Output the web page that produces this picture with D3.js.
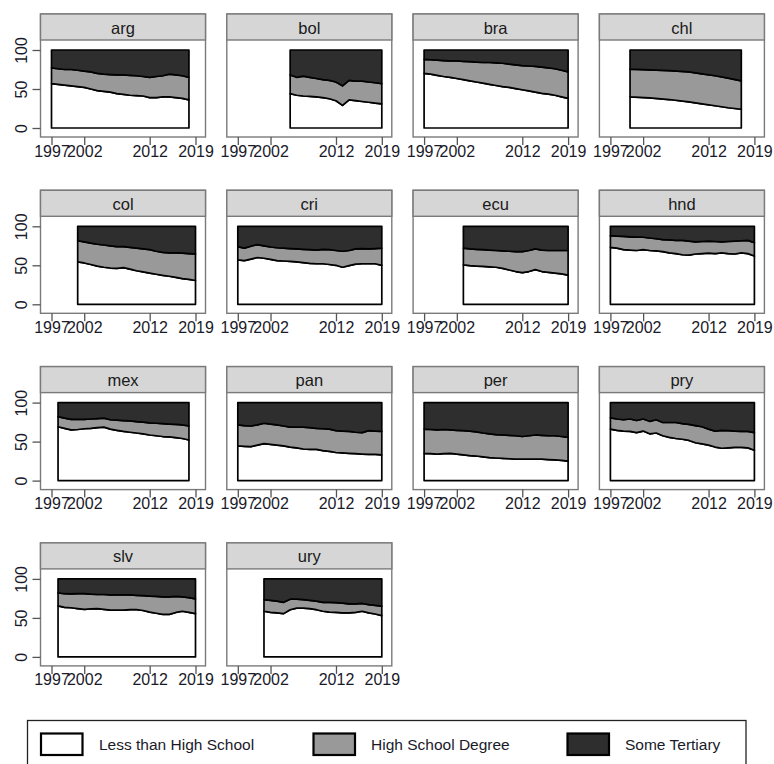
<!DOCTYPE html>
<html>
<head>
<meta charset="utf-8">
<script src="https://cdn.jsdelivr.net/npm/d3@7"></script>
<style>
  html, body { margin: 0; padding: 0; background: #fff; }
  svg { display: block; font-family: "Liberation Sans", Arial, sans-serif; }
</style>
</head>
<body>
<svg id="chart" width="774" height="764"></svg>
<script>
// ---- Data: shares (%) by education level; "upTo" = Less than HS + HS Degree ----
const countries = ["arg","bol","bra","chl","col","cri","ecu","hnd","mex","pan","per","pry","slv","ury"];
const xTickValues = [1997, 2002, 2012, 2019];
const yTickValues = [0, 50, 100];
const seriesNames = ["Less than High School", "High School Degree", "Some Tertiary"];

const argYears = d3.range(1997, 2019);
const argLess  = [57,56,55,54,53,52,50,48,47,46,44,43,42,41.5,41,39,39,40,40,39,38,36];
const argUpTo  = [77,76,75,75,74,73,72,70,69,68.5,68,68,67.5,67,66,65,66,67,69,68,67,65];

const bolYears = d3.range(2005, 2020);
const bolLess  = [44,42,41,40.5,40,39,37.5,35,29,36,35,34,33,32,31];
const bolUpTo  = [68,65,66.5,65,63.5,62,61,59,54,61,60,60,59,58,57];

const braYears = d3.range(1997, 2020);
const braLess  = [70,69,67.5,66,65,63.5,62,60.5,59,57.5,56,54.5,53,52,50.5,49,47.5,46,44.5,43.5,42,40,38];
const braUpTo  = [88,87.5,87,86.5,86,86,85.5,85,84.5,84,84,83.5,83,82,81,80,79.5,79,78,77,76,74,72];

const chlYears = [2000,2003,2006,2009,2011,2013,2015,2017];
const chlLess  = [40,38.5,36.5,33.5,31,28.5,26,24];
const chlUpTo  = [75.5,74.5,73.5,72,69.5,67,64,60.5];

const colYears = d3.range(2001, 2020);
const colLess  = [54.5,53,51,49,47.5,46.5,46,47,45,43,41.5,40,38.5,37,36,34.5,33,32,30.5];
const colUpTo  = [81.5,80,78.5,77,76,75,74,74,73,72,71,70,68,66.5,66,66,65.5,65,64.5];

const criYears = d3.range(1997, 2020);
const criLess  = [57,56,58,60,59,57.5,56,55.5,55,54.5,53.5,52.5,52,52,51,50,47.5,49.5,51.5,52,52,52,50];
const criUpTo  = [74,72,74.5,76.5,75,73.5,72.5,72,71.5,71,70.5,70,69.5,70.5,70,69,68,69,71,71.5,71,71.5,72];

const ecuYears = d3.range(2003, 2020);
const ecuLess  = [50.5,49.5,49,48.5,48,47.5,46,44,42,40.5,42,44.5,42,41,40,39,37.5];
const ecuUpTo  = [72,71,70.5,70,69.5,69,68.5,68,67.5,67.5,69,71,69.5,69,69,69,69];

const hndYears = d3.range(1997, 2020);
const hndLess  = [73,72,70,69.5,69,70,69,68.5,67.5,66,65,63.5,63,64.5,65,65.5,65,66,65,64.5,66,65,62];
const hndUpTo  = [88,87.5,87,86.5,86,86,85,84,83,82.5,82,82,81,80,80.5,81,80.5,80,80.5,81,81.5,82,79];

const mexYears = d3.range(1998, 2019);
const mexLess  = [69,67,65,65.5,66.5,67,68,68.5,66,64.5,63,62,61,60,58.5,57.5,56.5,56,55,54,52];
const mexUpTo  = [82,80,78.5,78.5,78.5,79,79.5,80,78,77.5,77,76.5,75.5,75,74,73.5,73,72.5,72,71.5,70];

const panYears = d3.range(1997, 2020);
const panLess  = [44.5,44,43.5,45.5,47.5,46.5,45.5,44.5,43,42,40.5,40,40,38.5,37.5,36,35.5,35,34.5,34,33.5,33.5,33];
const panUpTo  = [71.5,70.5,70,71.5,73.5,72.5,71.5,70,68.5,68.5,68.5,68,67,66.5,66,64,63.5,63,62,61.5,64,63.5,63];

const perYears = d3.range(1997, 2020);
const perLess  = [35,34.5,34,34.5,35,34,33,32,31.5,30.5,29.5,29,28.5,28,27.5,27.5,27.5,27.5,27.5,27,26.5,26,25];
const perUpTo  = [66,65.5,65,65.5,65,64.5,64,63.5,62.5,61,60,59,58.5,58,57.5,56.5,57.5,58.5,58,57.5,57.5,56.5,55.5];

const pryYears = d3.range(1997, 2020);
const pryLess  = [66,64.5,63.5,63,61.5,63.5,60,61,57.5,55.5,54,53,51.5,48.5,47,45.5,43,41.5,42,42.5,42.5,42,39];
const pryUpTo  = [80.5,79,78,79,77,79,76,78,74.5,74.5,74.5,73,72,70.5,69,66,63.5,64.5,64,63.5,63,63,61.5];

const slvYears = d3.range(1998, 2020);
const slvLess  = [65.5,63.5,63,62,61,61.5,62,61,60,60,60,60.5,60.5,59.5,57.5,56,54.5,54.5,57,58.5,57,55.5];
const slvUpTo  = [82,81,80.8,81,81.2,80.5,80,80,79.5,79.5,79.5,79.5,79,78.5,78,77.5,77,77,77.5,77,76,74.5];

const uryYears = d3.range(2001, 2020);
const uryLess  = [58.5,57,56.5,55.5,60.5,62.5,62.5,62,60.5,58.5,57.5,57,56.5,56.5,57,58.5,56.5,55,53];
const uryUpTo  = [73.5,72.5,71.5,70,74,74,73.5,72.5,71.5,70,70,69.5,69,68,68,68.5,67,66,65];

const dataByCountry = {
  arg: [argYears, argLess, argUpTo], bol: [bolYears, bolLess, bolUpTo],
  bra: [braYears, braLess, braUpTo], chl: [chlYears, chlLess, chlUpTo],
  col: [colYears, colLess, colUpTo], cri: [criYears, criLess, criUpTo],
  ecu: [ecuYears, ecuLess, ecuUpTo], hnd: [hndYears, hndLess, hndUpTo],
  mex: [mexYears, mexLess, mexUpTo], pan: [panYears, panLess, panUpTo],
  per: [perYears, perLess, perUpTo], pry: [pryYears, pryLess, pryUpTo],
  slv: [slvYears, slvLess, slvUpTo], ury: [uryYears, uryLess, uryUpTo]
};

// ---- Layout ----
const svg = d3.select("#chart");
const colStep = 186.3, rowStep = 176.3;
const left0 = 40.5, top0 = 14;
const panelW = 165, headerH = 26, panelH = 123;
const fills = ["#ffffff", "#999999", "#2e2e2e"];
const frameColor = "#7a7a7a";
const font = "\"Liberation Sans\", Arial, sans-serif";

countries.forEach((c, i) => {
  const col = i % 4, row = Math.floor(i / 4);
  const L = left0 + col * colStep;
  const T = top0 + row * rowStep;
  const x = d3.scaleLinear().domain([1997, 2019]).range([L + 11, L + 155]);
  const y = d3.scaleLinear().domain([0, 100]).range([T + 114, T + 36]);
  const g = svg.append("g");

  // frame
  g.append("rect").attr("x", L).attr("y", T).attr("width", panelW).attr("height", panelH)
    .attr("fill", "#fff").attr("stroke", frameColor).attr("stroke-width", 1.4);
  // header
  g.append("rect").attr("x", L).attr("y", T).attr("width", panelW).attr("height", headerH)
    .attr("fill", "#d6d6d6").attr("stroke", frameColor).attr("stroke-width", 1.4);
  g.append("text").attr("x", L + panelW / 2).attr("y", T + 19.5)
    .attr("text-anchor", "middle").attr("font-size", 16.5).attr("fill", "#1a1a1a")
    .text(c);

  // data
  const [yrs, less, upTo] = dataByCountry[c];
  const rows = yrs.map((yr, k) => ({ yr, less: less[k], upTo: upTo[k] }));
  const bands = [
    d3.area().x(d => x(d.yr)).y0(y(0)).y1(d => y(d.less)),
    d3.area().x(d => x(d.yr)).y0(d => y(d.less)).y1(d => y(d.upTo)),
    d3.area().x(d => x(d.yr)).y0(d => y(d.upTo)).y1(y(100))
  ];
  bands.forEach((a, k) => {
    g.append("path").datum(rows).attr("d", a)
      .attr("fill", fills[k]).attr("stroke", "#000").attr("stroke-width", 1.7)
      .attr("stroke-linejoin", "round");
  });

  // x axis
  const xAxis = d3.axisBottom(x).tickValues(xTickValues).tickSize(8).tickFormat(d3.format("d"));
  const xa = g.append("g").attr("transform", `translate(0,${T + panelH})`).call(xAxis);
  xa.select(".domain").remove();
  xa.selectAll(".tick line").attr("stroke", "#555").attr("stroke-width", 1.3);
  xa.selectAll(".tick text").attr("font-family", font).attr("font-size", 16)
    .attr("fill", "#1a1a2a").attr("y", 19.5).attr("dy", 0);

  // y axis (first column only)
  if (col === 0) {
    const yAxis = d3.axisLeft(y).tickValues(yTickValues).tickSize(8);
    const ya = g.append("g").attr("transform", `translate(${L},0)`).call(yAxis);
    ya.select(".domain").remove();
    ya.selectAll(".tick line").attr("stroke", "#555").attr("stroke-width", 1.3);
    ya.selectAll(".tick text").attr("font-family", font).attr("font-size", 16)
      .attr("fill", "#1a1a2a").attr("x", 0).attr("dy", 0)
      .attr("text-anchor", "middle")
      .attr("transform", "translate(-13.5,0) rotate(-90)");
  }
});

// ---- Legend ----
const lg = svg.append("g");
lg.append("rect").attr("x", 27.5).attr("y", 720.5).attr("width", 718.5).attr("height", 60)
  .attr("fill", "#fff").attr("stroke", "#222").attr("stroke-width", 1.3);
const swatchX = [41, 313.5, 567.5];
const textX = [99, 371, 625];
seriesNames.forEach((name, k) => {
  lg.append("rect").attr("x", swatchX[k]).attr("y", 733.5).attr("width", 41.5).attr("height", 21.5)
    .attr("fill", fills[k]).attr("stroke", "#000").attr("stroke-width", 2.2);
  lg.append("text").attr("x", textX[k]).attr("y", 749.5).attr("font-size", 15.5)
    .attr("fill", "#1a1a2a").text(name);
});
</script>
</body>
</html>
